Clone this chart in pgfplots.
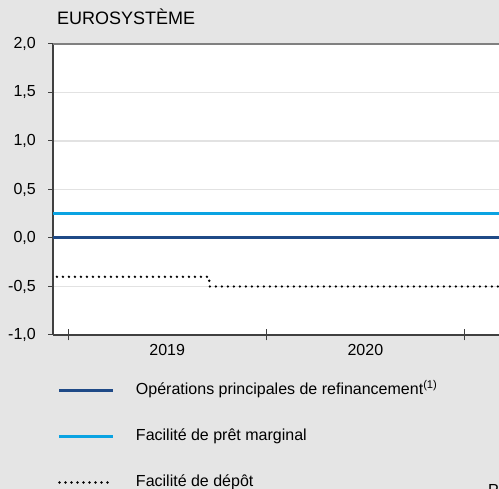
\documentclass[border=0pt]{standalone}
\usepackage{fontspec}
\setmainfont{Liberation Sans}
\usepackage{pgfplots}
\pgfplotsset{compat=1.18}
\definecolor{bg}{RGB}{229,229,229}
\definecolor{dblue}{RGB}{31,74,135}
\definecolor{lblue}{RGB}{10,163,226}
\definecolor{gridc}{RGB}{226,226,226}
\definecolor{axc}{RGB}{64,64,64}
\definecolor{topc}{RGB}{128,128,128}
\begin{document}
\begin{tikzpicture}[x=1pt,y=1pt]
\useasboundingbox (0,0) rectangle (499,489);
\fill[bg] (0,0) rectangle (499,489);
\clip (0,0) rectangle (499,489);
\node[anchor=base west, inner sep=0pt, font=\fontsize{16}{19}\selectfont] at (488,-6.5) {P};
\begin{axis}[
  at={(53pt,154pt)}, anchor=south west,
  scale only axis, width=487pt, height=291pt,
  xmin=2018.924, xmax=2021.381, ymin=-1, ymax=2,
  axis background/.style={fill=white},
  axis x line*=bottom, axis y line*=left,
  axis line style={axc, line width=1.5pt, -},
  title={EUROSYSTÈME},
  title style={at={(axis description cs:0,1)}, anchor=base west, inner sep=0pt, xshift=4pt, yshift=13.7pt, font=\fontsize{18}{21}\selectfont},
  ytick={-1,-0.5,0,0.5,1,1.5},
  yticklabels={{-1,0},{-0,5},{0,0},{0,5},{1,0},{1,5}},
  extra y ticks={2},
  extra y tick labels={2{,}0},
  extra y tick style={grid style={topc, line width=2pt}},
  ymajorgrids,
  grid style={gridc, line width=1.5pt},
  tick align=outside,
  major tick length=5pt,
  tick style={axc, line width=1pt},
  ticklabel style={font=\fontsize{16}{19}\selectfont},
  yticklabel style={anchor=east, inner sep=0pt, xshift=-12pt},
  xtick={2019.5,2020.5},
  xticklabels={2019,2020},
  xtick style={draw=none},
  xticklabel style={anchor=north, inner sep=0pt, yshift=-4pt},
  extra x ticks={2019,2020,2021},
  extra x tick labels={},
  extra x tick style={tick align=center, major tick length=11pt, xtick style={draw=axc, line width=1pt}},
  legend style={at={(axis description cs:0,0)}, anchor=north west, xshift=5pt, yshift=-48pt,
    draw=none, fill=none, inner sep=0pt, outer sep=0pt, row sep=30pt,
    nodes={inner sep=0pt, text height=12pt, text depth=4pt, anchor=base west},
    font=\fontsize{16}{19}\selectfont,
    /tikz/every odd column/.append style={column sep=22pt}},
  legend cell align=left,
  legend image code/.code={\draw[#1] (0pt,4.5pt) -- (53pt,4.5pt);},
]
\addplot[dblue, line width=3pt] coordinates {(2018.924,0) (2021.381,0)};
\addlegendentry{Opérations principales de refinancement\textsuperscript{(1)}}
\addplot[lblue, line width=3pt] coordinates {(2018.924,0.25) (2021.381,0.25)};
\addlegendentry{Facilité de prêt marginal}
\addplot[black, line width=2.6pt, dash pattern=on 0pt off 6pt, line cap=round] coordinates {(2018.944,-0.4) (2019.711,-0.4) (2019.714,-0.5) (2021.381,-0.5)};
\addlegendentry{Facilité de dépôt}
\end{axis}
\end{tikzpicture}
\end{document}
